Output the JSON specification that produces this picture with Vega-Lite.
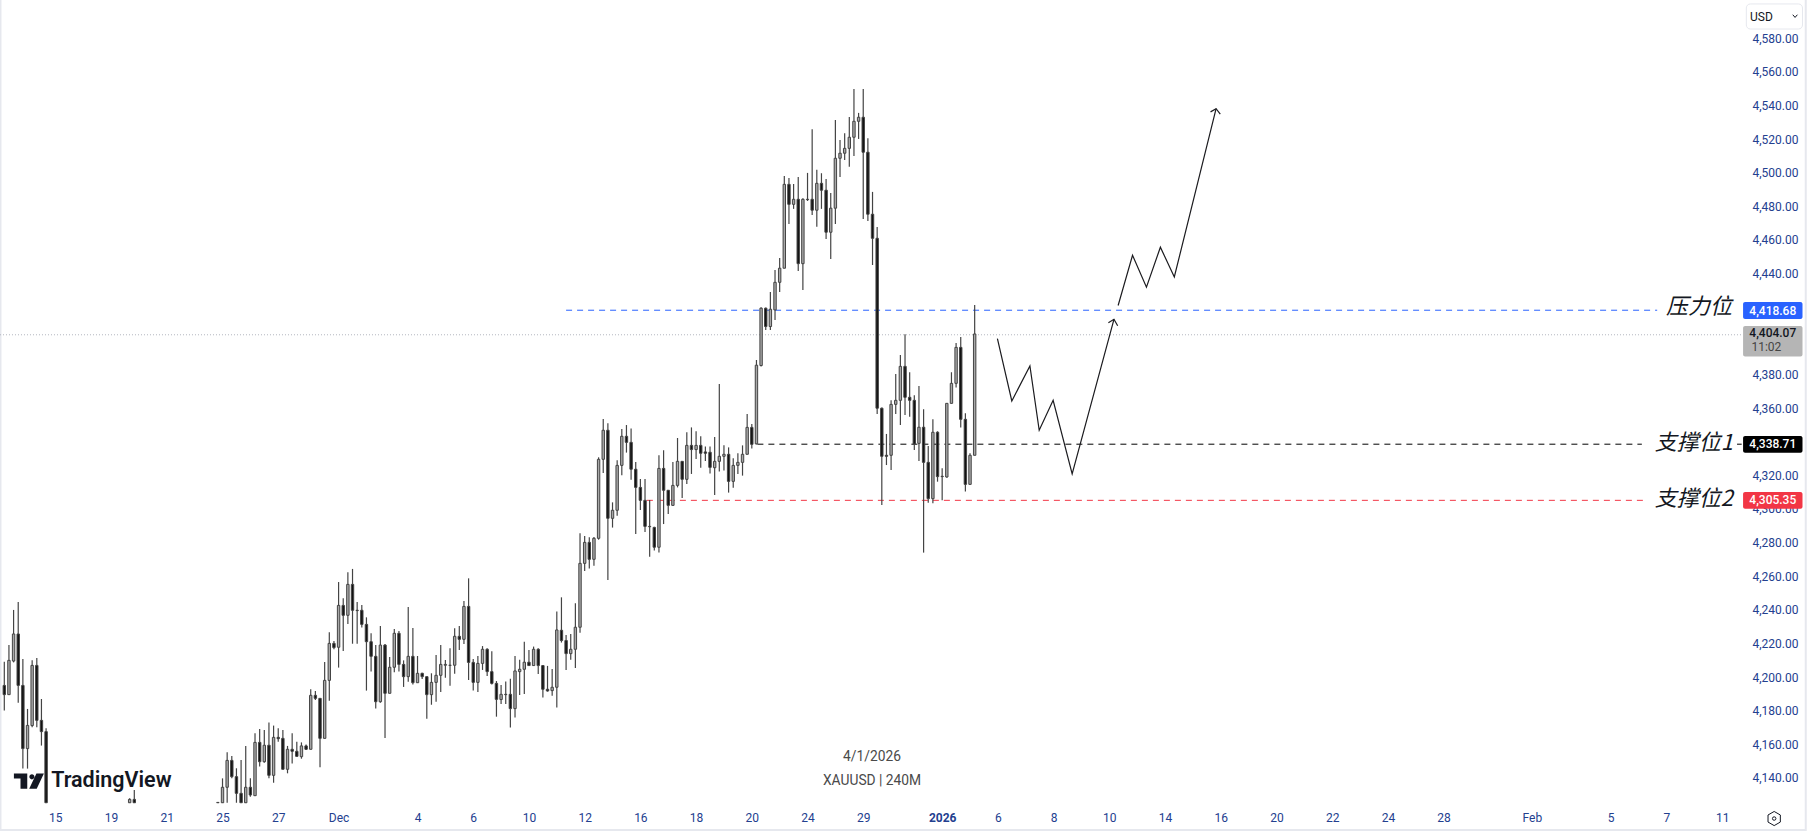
{
"$schema":"https://vega.github.io/schema/vega-lite/v6.json",
"width":1809,"height":834,"padding":0,"autosize":{"type":"none"},"background":"#ffffff",
"config":{"view":{"stroke":null},"axis":{"labelFont":"Roboto","labelFontSize":12,"labelColor":"#23408f"}},
"datasets":{
"candles":[
{"bar":0,"open":4195.0,"high":4209.1,"low":4180.0,"close":4189.5},
{"bar":1,"open":4189.5,"high":4219.0,"low":4189.5,"close":4209.9},
{"bar":2,"open":4209.5,"high":4239.9,"low":4208.7,"close":4225.6},
{"bar":3,"open":4225.6,"high":4244.6,"low":4184.7,"close":4195.0},
{"bar":4,"open":4195.0,"high":4210.7,"low":4145.5,"close":4157.4},
{"bar":5,"open":4157.4,"high":4181.0,"low":4145.5,"close":4171.2},
{"bar":6,"open":4171.1,"high":4209.9,"low":4170.1,"close":4206.9},
{"bar":7,"open":4206.9,"high":4211.3,"low":4170.1,"close":4174.2},
{"bar":8,"open":4174.2,"high":4186.9,"low":4159.2,"close":4167.5},
{"bar":9,"open":4167.5,"high":4169.5,"low":4125.2,"close":4125.2},
{"bar":27,"open":4125.2,"high":4127.8,"low":4125.2,"close":4127.2},
{"bar":28,"open":4127.2,"high":4132.8,"low":4125.2,"close":4125.2},
{"bar":46,"open":4125.2,"high":4125.4,"low":4125.2,"close":4125.4},
{"bar":47,"open":4125.2,"high":4139.7,"low":4125.2,"close":4134.4},
{"bar":48,"open":4134.4,"high":4155.2,"low":4125.2,"close":4150.4},
{"bar":49,"open":4150.4,"high":4153.0,"low":4139.7,"close":4140.7},
{"bar":50,"open":4140.7,"high":4145.7,"low":4125.2,"close":4130.8},
{"bar":51,"open":4130.8,"high":4150.6,"low":4125.2,"close":4125.2},
{"bar":52,"open":4125.2,"high":4159.0,"low":4125.2,"close":4134.4},
{"bar":53,"open":4134.4,"high":4139.7,"low":4128.8,"close":4129.8},
{"bar":54,"open":4129.4,"high":4166.5,"low":4129.4,"close":4161.1},
{"bar":55,"open":4161.1,"high":4169.1,"low":4146.7,"close":4149.6},
{"bar":56,"open":4149.6,"high":4168.5,"low":4149.0,"close":4159.4},
{"bar":57,"open":4159.4,"high":4173.0,"low":4139.7,"close":4141.5},
{"bar":58,"open":4141.5,"high":4171.1,"low":4137.1,"close":4164.1},
{"bar":59,"open":4164.1,"high":4169.5,"low":4161.5,"close":4163.3},
{"bar":60,"open":4163.5,"high":4168.5,"low":4145.1,"close":4145.1},
{"bar":61,"open":4145.1,"high":4159.0,"low":4142.7,"close":4157.0},
{"bar":62,"open":4157.0,"high":4166.5,"low":4148.6,"close":4155.8},
{"bar":63,"open":4155.8,"high":4161.5,"low":4152.6,"close":4152.8},
{"bar":64,"open":4152.6,"high":4161.1,"low":4151.4,"close":4159.0},
{"bar":65,"open":4159.0,"high":4159.9,"low":4156.6,"close":4157.0},
{"bar":66,"open":4157.0,"high":4192.7,"low":4157.0,"close":4189.1},
{"bar":67,"open":4189.1,"high":4191.7,"low":4186.3,"close":4187.3},
{"bar":68,"open":4187.3,"high":4187.3,"low":4146.3,"close":4163.5},
{"bar":69,"open":4163.5,"high":4208.9,"low":4163.5,"close":4198.0},
{"bar":70,"open":4198.0,"high":4226.6,"low":4185.9,"close":4220.0},
{"bar":71,"open":4220.0,"high":4221.4,"low":4216.5,"close":4217.5},
{"bar":72,"open":4217.7,"high":4256.5,"low":4205.6,"close":4242.6},
{"bar":73,"open":4242.6,"high":4246.8,"low":4215.5,"close":4236.7},
{"bar":74,"open":4236.7,"high":4262.3,"low":4231.5,"close":4255.1},
{"bar":75,"open":4255.1,"high":4264.3,"low":4219.8,"close":4239.7},
{"bar":76,"open":4239.7,"high":4244.6,"low":4219.8,"close":4239.5},
{"bar":77,"open":4239.7,"high":4242.8,"low":4229.4,"close":4231.3},
{"bar":78,"open":4231.3,"high":4235.5,"low":4191.9,"close":4221.0},
{"bar":79,"open":4221.0,"high":4226.0,"low":4203.2,"close":4212.3},
{"bar":80,"open":4212.3,"high":4219.0,"low":4181.2,"close":4185.3},
{"bar":81,"open":4185.3,"high":4230.3,"low":4184.7,"close":4219.0},
{"bar":82,"open":4219.0,"high":4219.6,"low":4163.7,"close":4190.3},
{"bar":83,"open":4190.3,"high":4211.9,"low":4190.3,"close":4205.8},
{"bar":84,"open":4205.8,"high":4228.6,"low":4202.8,"close":4226.0},
{"bar":85,"open":4226.0,"high":4227.4,"low":4203.2,"close":4207.5},
{"bar":86,"open":4207.5,"high":4209.9,"low":4194.1,"close":4200.2},
{"bar":87,"open":4200.2,"high":4241.6,"low":4197.2,"close":4212.3},
{"bar":88,"open":4212.3,"high":4229.2,"low":4195.6,"close":4196.6},
{"bar":89,"open":4196.6,"high":4212.5,"low":4196.6,"close":4202.2},
{"bar":90,"open":4202.2,"high":4202.6,"low":4198.8,"close":4200.2},
{"bar":91,"open":4200.2,"high":4200.2,"low":4175.2,"close":4189.5},
{"bar":92,"open":4189.5,"high":4202.2,"low":4183.5,"close":4196.8},
{"bar":93,"open":4196.8,"high":4213.1,"low":4185.3,"close":4201.0},
{"bar":94,"open":4201.0,"high":4219.0,"low":4191.1,"close":4207.5},
{"bar":95,"open":4207.0,"high":4210.1,"low":4199.6,"close":4207.5},
{"bar":96,"open":4206.9,"high":4217.1,"low":4194.8,"close":4207.0},
{"bar":97,"open":4207.0,"high":4229.0,"low":4202.0,"close":4224.2},
{"bar":98,"open":4224.2,"high":4230.3,"low":4216.1,"close":4222.4},
{"bar":99,"open":4222.4,"high":4245.2,"low":4219.6,"close":4242.0},
{"bar":100,"open":4242.0,"high":4258.7,"low":4198.2,"close":4208.7},
{"bar":101,"open":4208.7,"high":4210.7,"low":4191.9,"close":4196.8},
{"bar":102,"open":4196.8,"high":4212.5,"low":4191.1,"close":4208.1},
{"bar":103,"open":4208.1,"high":4218.4,"low":4204.2,"close":4216.5},
{"bar":104,"open":4216.5,"high":4217.1,"low":4200.6,"close":4203.2},
{"bar":105,"open":4203.2,"high":4215.3,"low":4195.6,"close":4196.2},
{"bar":106,"open":4196.2,"high":4197.6,"low":4176.4,"close":4186.7},
{"bar":107,"open":4186.6,"high":4195.3,"low":4184.0,"close":4189.7},
{"bar":108,"open":4189.7,"high":4197.3,"low":4184.0,"close":4189.5},
{"bar":109,"open":4189.7,"high":4198.9,"low":4169.9,"close":4181.2},
{"bar":110,"open":4181.2,"high":4212.5,"low":4175.9,"close":4203.6},
{"bar":111,"open":4203.2,"high":4210.2,"low":4189.3,"close":4204.6},
{"bar":112,"open":4204.6,"high":4220.9,"low":4189.9,"close":4208.8},
{"bar":113,"open":4208.8,"high":4216.1,"low":4206.8,"close":4206.8},
{"bar":114,"open":4206.8,"high":4218.1,"low":4206.8,"close":4216.5},
{"bar":115,"open":4216.5,"high":4217.1,"low":4201.8,"close":4206.8},
{"bar":116,"open":4206.8,"high":4207.2,"low":4187.8,"close":4192.7},
{"bar":117,"open":4192.7,"high":4206.6,"low":4191.3,"close":4191.7},
{"bar":118,"open":4191.9,"high":4204.8,"low":4188.9,"close":4193.9},
{"bar":119,"open":4193.9,"high":4238.9,"low":4181.8,"close":4228.0},
{"bar":120,"open":4227.8,"high":4247.4,"low":4220.5,"close":4221.7},
{"bar":121,"open":4221.7,"high":4225.0,"low":4204.2,"close":4213.9},
{"bar":122,"open":4213.9,"high":4225.6,"low":4210.2,"close":4216.5},
{"bar":123,"open":4216.5,"high":4243.9,"low":4205.4,"close":4229.6},
{"bar":124,"open":4229.6,"high":4285.5,"low":4226.4,"close":4267.6},
{"bar":125,"open":4267.6,"high":4283.9,"low":4263.1,"close":4280.1},
{"bar":126,"open":4280.1,"high":4283.1,"low":4264.5,"close":4270.0},
{"bar":127,"open":4270.0,"high":4283.3,"low":4266.2,"close":4282.5},
{"bar":128,"open":4282.5,"high":4330.7,"low":4281.7,"close":4329.5},
{"bar":129,"open":4329.5,"high":4353.5,"low":4321.4,"close":4346.8},
{"bar":130,"open":4346.8,"high":4350.9,"low":4257.7,"close":4294.4},
{"bar":131,"open":4294.4,"high":4303.9,"low":4288.9,"close":4299.2},
{"bar":132,"open":4299.2,"high":4328.9,"low":4296.0,"close":4325.9},
{"bar":133,"open":4325.9,"high":4347.5,"low":4320.0,"close":4343.2},
{"bar":134,"open":4343.2,"high":4349.9,"low":4333.5,"close":4339.6},
{"bar":135,"open":4339.6,"high":4347.9,"low":4317.4,"close":4323.6},
{"bar":136,"open":4323.6,"high":4327.9,"low":4285.1,"close":4312.8},
{"bar":137,"open":4312.8,"high":4317.8,"low":4299.4,"close":4305.1},
{"bar":138,"open":4305.1,"high":4317.8,"low":4286.3,"close":4289.6},
{"bar":139,"open":4289.6,"high":4305.3,"low":4271.6,"close":4289.4},
{"bar":140,"open":4289.0,"high":4289.4,"low":4275.2,"close":4277.2},
{"bar":141,"open":4277.2,"high":4331.9,"low":4274.0,"close":4324.1},
{"bar":142,"open":4324.1,"high":4334.9,"low":4291.0,"close":4311.1},
{"bar":143,"open":4311.1,"high":4311.3,"low":4297.0,"close":4302.1},
{"bar":144,"open":4302.1,"high":4327.9,"low":4301.9,"close":4314.0},
{"bar":145,"open":4314.0,"high":4342.2,"low":4312.8,"close":4328.3},
{"bar":146,"open":4328.3,"high":4328.5,"low":4306.5,"close":4317.6},
{"bar":147,"open":4317.6,"high":4345.6,"low":4314.8,"close":4337.8},
{"bar":148,"open":4337.8,"high":4348.5,"low":4320.8,"close":4335.3},
{"bar":149,"open":4335.3,"high":4346.2,"low":4329.7,"close":4337.8},
{"bar":150,"open":4337.8,"high":4343.2,"low":4324.5,"close":4333.1},
{"bar":151,"open":4333.9,"high":4337.2,"low":4328.5,"close":4333.1},
{"bar":152,"open":4333.7,"high":4337.2,"low":4321.0,"close":4324.7},
{"bar":153,"open":4324.5,"high":4342.8,"low":4308.3,"close":4328.3},
{"bar":154,"open":4328.3,"high":4374.3,"low":4322.2,"close":4331.3},
{"bar":155,"open":4331.3,"high":4337.8,"low":4322.8,"close":4332.5},
{"bar":156,"open":4332.5,"high":4336.6,"low":4309.7,"close":4316.4},
{"bar":157,"open":4316.4,"high":4330.1,"low":4312.6,"close":4325.9},
{"bar":158,"open":4325.9,"high":4333.1,"low":4320.8,"close":4327.7},
{"bar":159,"open":4327.7,"high":4337.8,"low":4319.8,"close":4332.5},
{"bar":160,"open":4332.5,"high":4356.5,"low":4332.5,"close":4348.5},
{"bar":161,"open":4348.5,"high":4350.5,"low":4336.0,"close":4338.4},
{"bar":162,"open":4338.7,"high":4388.6,"low":4338.4,"close":4385.5},
{"bar":163,"open":4385.3,"high":4420.0,"low":4384.7,"close":4419.4},
{"bar":164,"open":4419.4,"high":4419.8,"low":4406.5,"close":4408.5},
{"bar":165,"open":4408.5,"high":4429.1,"low":4406.5,"close":4418.8},
{"bar":166,"open":4418.4,"high":4442.2,"low":4412.4,"close":4434.8},
{"bar":167,"open":4434.8,"high":4449.3,"low":4429.1,"close":4443.2},
{"bar":168,"open":4443.2,"high":4498.1,"low":4443.2,"close":4493.1},
{"bar":169,"open":4493.1,"high":4496.9,"low":4469.5,"close":4481.2},
{"bar":170,"open":4481.2,"high":4493.3,"low":4478.5,"close":4484.2},
{"bar":171,"open":4484.2,"high":4497.5,"low":4441.6,"close":4445.9},
{"bar":172,"open":4445.9,"high":4484.8,"low":4430.3,"close":4484.2},
{"bar":173,"open":4484.2,"high":4499.9,"low":4483.2,"close":4484.0},
{"bar":174,"open":4484.2,"high":4525.9,"low":4474.9,"close":4477.7},
{"bar":175,"open":4477.7,"high":4501.7,"low":4467.8,"close":4493.7},
{"bar":176,"open":4493.7,"high":4499.7,"low":4478.5,"close":4489.6},
{"bar":177,"open":4489.6,"high":4496.3,"low":4460.6,"close":4464.6},
{"bar":178,"open":4464.6,"high":4488.0,"low":4448.7,"close":4478.9},
{"bar":179,"open":4478.9,"high":4531.4,"low":4469.5,"close":4508.6},
{"bar":180,"open":4508.6,"high":4519.5,"low":4497.5,"close":4511.6},
{"bar":181,"open":4511.6,"high":4523.5,"low":4507.6,"close":4514.5},
{"bar":182,"open":4514.5,"high":4533.2,"low":4503.6,"close":4521.1},
{"bar":183,"open":4521.1,"high":4549.8,"low":4510.0,"close":4530.6},
{"bar":184,"open":4530.6,"high":4535.6,"low":4520.1,"close":4533.0},
{"bar":185,"open":4533.0,"high":4549.8,"low":4472.5,"close":4512.2},
{"bar":186,"open":4512.2,"high":4520.5,"low":4471.3,"close":4475.3},
{"bar":187,"open":4475.3,"high":4488.6,"low":4445.1,"close":4461.0},
{"bar":188,"open":4461.0,"high":4467.7,"low":4356.5,"close":4359.9},
{"bar":189,"open":4359.9,"high":4360.4,"low":4302.3,"close":4331.3},
{"bar":190,"open":4331.9,"high":4344.6,"low":4326.1,"close":4331.3},
{"bar":191,"open":4331.9,"high":4364.6,"low":4323.2,"close":4362.2},
{"bar":192,"open":4362.2,"high":4380.3,"low":4356.5,"close":4364.6},
{"bar":193,"open":4364.6,"high":4391.6,"low":4349.9,"close":4384.8},
{"bar":194,"open":4384.8,"high":4403.9,"low":4355.9,"close":4366.4},
{"bar":195,"open":4366.4,"high":4381.3,"low":4354.9,"close":4364.6},
{"bar":196,"open":4364.6,"high":4367.6,"low":4335.1,"close":4338.6},
{"bar":197,"open":4339.0,"high":4373.1,"low":4328.5,"close":4348.6},
{"bar":198,"open":4348.6,"high":4359.3,"low":4274.0,"close":4327.7},
{"bar":199,"open":4327.7,"high":4337.4,"low":4303.7,"close":4306.1},
{"bar":200,"open":4306.1,"high":4353.3,"low":4303.3,"close":4345.6},
{"bar":201,"open":4345.6,"high":4346.2,"low":4316.2,"close":4319.2},
{"bar":202,"open":4319.4,"high":4324.2,"low":4305.1,"close":4319.2},
{"bar":203,"open":4319.0,"high":4362.8,"low":4318.6,"close":4362.8},
{"bar":204,"open":4362.8,"high":4381.3,"low":4362.8,"close":4374.7},
{"bar":205,"open":4374.7,"high":4398.7,"low":4372.3,"close":4396.1},
{"bar":206,"open":4396.1,"high":4402.3,"low":4348.4,"close":4353.3},
{"bar":207,"open":4353.3,"high":4356.9,"low":4310.3,"close":4314.6},
{"bar":208,"open":4314.6,"high":4333.1,"low":4314.6,"close":4331.9},
{"bar":209,"open":4331.9,"high":4421.3,"low":4331.9,"close":4404.07}
],
"levels":[
{"level":"last","from":-0.93,"to":374.5,"price":4403.6},
{"level":"resistance","from":121,"to":356,"price":4418.2},
{"level":"support1","from":162.2,"to":352.7,"price":4338.5},
{"level":"support1","from":373.2,"to":374.2,"price":4338.5},
{"level":"support2","from":138.4,"to":353.7,"price":4305.1}
],
"paths":[
{"path":"a","seq":0,"bar":213.9,"price":4401.3},{"path":"a","seq":1,"bar":217.0,"price":4364.2},{"path":"a","seq":2,"bar":220.9,"price":4385.0},{"path":"a","seq":3,"bar":222.9,"price":4346.8},{"path":"a","seq":4,"bar":225.9,"price":4364.6},{"path":"a","seq":5,"bar":230.0,"price":4320.8},{"path":"a","seq":6,"bar":239.0,"price":4412.8},
{"path":"ah","seq":0,"bar":237.8,"price":4410.8},{"path":"ah","seq":1,"bar":239.0,"price":4412.8},{"path":"ah","seq":2,"bar":239.8,"price":4409.0},
{"path":"b","seq":0,"bar":239.9,"price":4421.0},{"path":"b","seq":1,"bar":243.0,"price":4450.9},{"path":"b","seq":2,"bar":246.0,"price":4431.9},{"path":"b","seq":3,"bar":249.0,"price":4455.7},{"path":"b","seq":4,"bar":252.0,"price":4438.0},{"path":"b","seq":5,"bar":261.0,"price":4538.1},
{"path":"bh","seq":0,"bar":259.8,"price":4536.2},{"path":"bh","seq":1,"bar":261.0,"price":4538.1},{"path":"bh","seq":2,"bar":261.9,"price":4534.8}
],
"notes":[
{"text":"压力位","bar":357.9,"price":4420.1},
{"text":"支撑位1","bar":355.5,"price":4339.4},
{"text":"支撑位2","bar":355.5,"price":4306.1}
],
"stamp":[
{"text":"4/1/2026","bar":186.9,"price":4152.4},
{"text":"XAUUSD | 240M","bar":186.9,"price":4138.4}
],
"pills":[
{"kind":"resistance","from":374.5,"to":387.3,"top":4423.1,"bottom":4413.0},
{"kind":"last","from":374.5,"to":387.3,"top":4408.8,"bottom":4390.6},
{"kind":"support1","from":374.5,"to":387.3,"top":4343.4,"bottom":4333.4},
{"kind":"support2","from":374.5,"to":387.3,"top":4310.1,"bottom":4300.1}
],
"pillText":[
{"text":"4,418.68","kind":"light","bar":380.9,"price":4418.0},
{"text":"4,404.07","kind":"dark","bar":380.9,"price":4404.5},
{"text":"4,338.71","kind":"light","bar":380.9,"price":4338.5},
{"text":"4,305.35","kind":"light","bar":380.9,"price":4305.1}
]
},
"layer":[
{"data":{"values":[{"left":-0.82,"right":388,"top":4604,"bottom":4109}]},
 "mark":{"type":"rect","fill":"transparent","stroke":"#e6e8ee","strokeWidth":2},
 "encoding":{
  "x":{"field":"left","type":"quantitative","title":null,
   "scale":{"domain":[-0.926,388.7],"nice":false,"zero":false,"padding":0},
   "axis":{"orient":"bottom","offset":-17,"title":null,"grid":false,"domain":false,"ticks":false,"labelPadding":0,"labelBaseline":"middle","labelFlush":false,"labelBound":false,"labelOverlap":false,
    "values":[11,23,35,47,59,72,89,101,113,125,137,149,161,173,185,202,214,226,238,250,262,274,286,298,310,329,346,358,370],
    "labelExpr":"({11:'15',23:'19',35:'21',47:'25',59:'27',72:'Dec',89:'4',101:'6',113:'10',125:'12',137:'16',149:'18',161:'20',173:'24',185:'29',202:'2026',214:'6',226:'8',238:'10',250:'14',262:'16',274:'20',286:'22',298:'24',310:'28',329:'Feb',346:'5',358:'7',370:'11'})[datum.value]",
    "labelFontWeight":{"condition":{"test":"datum.value===202","value":"bold"},"value":"normal"}}},
  "x2":{"field":"right"},
  "y":{"field":"top","type":"quantitative","title":null,
   "scale":{"domain":[4106.6,4602.76],"nice":false,"zero":false},
   "axis":{"orient":"right","offset":-11,"title":null,"grid":false,"domain":false,"ticks":false,"labelPadding":0,"labelAlign":"right","labelFlush":false,"labelBound":false,"labelOverlap":false,"format":",.2f",
    "values":[4140,4160,4180,4200,4220,4240,4260,4280,4300,4320,4360,4380,4440,4460,4480,4500,4520,4540,4560,4580]}},
  "y2":{"field":"bottom"}}},
{"data":{"name":"levels"},
 "mark":{"type":"rule","strokeWidth":1},
 "encoding":{
  "x":{"field":"from","type":"quantitative","title":null,"scale":{"domain":[-0.926,388.7],"nice":false,"zero":false,"padding":0}},
  "x2":{"field":"to"},
  "y":{"field":"price","type":"quantitative","title":null,"scale":{"domain":[4106.6,4602.76],"nice":false,"zero":false}},
  "color":{"field":"level","type":"nominal","legend":null,"scale":{"domain":["last","resistance","support1","support2"],"range":["#b2b5be","#2962ff","#000000","#f23645"]}},
  "strokeDash":{"field":"level","type":"nominal","legend":null,"scale":{"domain":["last","resistance","support1","support2"],"range":[[1,2],[6,5],[6,5],[6,5]]}}}},
{"data":{"name":"candles"},
 "mark":{"type":"rule","color":"#444444","strokeWidth":1.2},
 "encoding":{
  "x":{"field":"bar","type":"quantitative","title":null,"scale":{"domain":[-0.926,388.7],"nice":false,"zero":false,"padding":0}},
  "y":{"field":"low","type":"quantitative","title":null,"scale":{"domain":[4106.6,4602.76],"nice":false,"zero":false}},
  "y2":{"field":"high"}}},
{"data":{"name":"candles"},
 "mark":{"type":"bar","size":2.4,"stroke":"#444444","strokeWidth":1},
 "encoding":{
  "x":{"field":"bar","type":"quantitative","title":null,"scale":{"domain":[-0.926,388.7],"nice":false,"zero":false,"padding":0}},
  "y":{"field":"open","type":"quantitative","title":null,"scale":{"domain":[4106.6,4602.76],"nice":false,"zero":false}},
  "y2":{"field":"close"},
  "fill":{"condition":{"test":"datum.close>=datum.open","value":"#a8a8a8"},"value":"#111111"}}},
{"data":{"name":"paths"},
 "mark":{"type":"line","color":"#1b1b1f","strokeWidth":1.2,"interpolate":"linear"},
 "encoding":{
  "x":{"field":"bar","type":"quantitative","title":null,"scale":{"domain":[-0.926,388.7],"nice":false,"zero":false,"padding":0}},
  "y":{"field":"price","type":"quantitative","title":null,"scale":{"domain":[4106.6,4602.76],"nice":false,"zero":false}},
  "detail":{"field":"path"},
  "order":{"field":"seq","type":"quantitative"}}},
{"data":{"name":"notes"},
 "mark":{"type":"text","font":"Noto Sans CJK SC","fontSize":22,"fontStyle":"italic","fontWeight":400,"align":"left","baseline":"middle","color":"#131722"},
 "encoding":{
  "x":{"field":"bar","type":"quantitative","title":null,"scale":{"domain":[-0.926,388.7],"nice":false,"zero":false,"padding":0}},
  "y":{"field":"price","type":"quantitative","title":null,"scale":{"domain":[4106.6,4602.76],"nice":false,"zero":false}},
  "text":{"field":"text"}}},
{"data":{"name":"stamp"},
 "mark":{"type":"text","font":"Roboto","fontSize":13.8,"align":"center","baseline":"middle","color":"#4a4a4a"},
 "encoding":{
  "x":{"field":"bar","type":"quantitative","title":null,"scale":{"domain":[-0.926,388.7],"nice":false,"zero":false,"padding":0}},
  "y":{"field":"price","type":"quantitative","title":null,"scale":{"domain":[4106.6,4602.76],"nice":false,"zero":false}},
  "text":{"field":"text"}}},
{"data":{"values":[{"text":"TradingView","bar":10.1,"price":4138}]},
 "mark":{"type":"text","font":"Roboto","fontSize":21.5,"fontWeight":600,"align":"left","baseline":"middle","color":"#131722"},
 "encoding":{
  "x":{"field":"bar","type":"quantitative","title":null,"scale":{"domain":[-0.926,388.7],"nice":false,"zero":false,"padding":0}},
  "y":{"field":"price","type":"quantitative","title":null,"scale":{"domain":[4106.6,4602.76],"nice":false,"zero":false}},
  "text":{"field":"text"}}},
{"data":{"values":[{"bar":5.3,"price":4138}]},
 "mark":{"type":"point","filled":true,"opacity":1,"size":900,"color":"#131722","shape":"M-1,-0.51L-0.11,-0.51L-0.11,0.51L-0.56,0.51L-0.56,-0.18L-1,-0.18ZM0.03,-0.29A0.17,0.17 0 1 0 0.37,-0.29A0.17,0.17 0 1 0 0.03,-0.29ZM0.5,-0.51L1,-0.51L0.52,0.51L0.02,0.51Z"},
 "encoding":{
  "x":{"field":"bar","type":"quantitative","title":null,"scale":{"domain":[-0.926,388.7],"nice":false,"zero":false,"padding":0}},
  "y":{"field":"price","type":"quantitative","title":null,"scale":{"domain":[4106.6,4602.76],"nice":false,"zero":false}}}},
{"data":{"values":[{"from":375.2,"to":387.3,"top":4600.4,"bottom":4585.5}]},
 "mark":{"type":"rect","fill":"#ffffff","stroke":"#e6e8ee","strokeWidth":1,"cornerRadius":4},
 "encoding":{
  "x":{"field":"from","type":"quantitative","title":null,"scale":{"domain":[-0.926,388.7],"nice":false,"zero":false,"padding":0}},
  "x2":{"field":"to"},
  "y":{"field":"top","type":"quantitative","title":null,"scale":{"domain":[4106.6,4602.76],"nice":false,"zero":false}},
  "y2":{"field":"bottom"}}},
{"data":{"values":[{"text":"USD","bar":376.0,"price":4592.9}]},
 "mark":{"type":"text","font":"Roboto","fontSize":12,"align":"left","baseline":"middle","color":"#131722"},
 "encoding":{
  "x":{"field":"bar","type":"quantitative","title":null,"scale":{"domain":[-0.926,388.7],"nice":false,"zero":false,"padding":0}},
  "y":{"field":"price","type":"quantitative","title":null,"scale":{"domain":[4106.6,4602.76],"nice":false,"zero":false}},
  "text":{"field":"text"}}},
{"data":{"values":[{"seq":0,"bar":385.2,"price":4594.0},{"seq":1,"bar":385.7,"price":4592.4},{"seq":2,"bar":386.2,"price":4594.0}]},
 "mark":{"type":"line","color":"#131722","strokeWidth":1},
 "encoding":{
  "x":{"field":"bar","type":"quantitative","title":null,"scale":{"domain":[-0.926,388.7],"nice":false,"zero":false,"padding":0}},
  "y":{"field":"price","type":"quantitative","title":null,"scale":{"domain":[4106.6,4602.76],"nice":false,"zero":false}},
  "order":{"field":"seq","type":"quantitative"}}},
{"data":{"name":"pills"},
 "mark":{"type":"rect","cornerRadius":2},
 "encoding":{
  "x":{"field":"from","type":"quantitative","title":null,"scale":{"domain":[-0.926,388.7],"nice":false,"zero":false,"padding":0}},
  "x2":{"field":"to"},
  "y":{"field":"top","type":"quantitative","title":null,"scale":{"domain":[4106.6,4602.76],"nice":false,"zero":false}},
  "y2":{"field":"bottom"},
  "fill":{"field":"kind","type":"nominal","legend":null,"scale":{"domain":["last","resistance","support1","support2"],"range":["#b5b5b5","#2962ff","#000000","#f23645"]}}}},
{"data":{"name":"pillText"},
 "mark":{"type":"text","font":"Roboto","fontSize":12,"fontWeight":500,"align":"center","baseline":"middle"},
 "encoding":{
  "x":{"field":"bar","type":"quantitative","title":null,"scale":{"domain":[-0.926,388.7],"nice":false,"zero":false,"padding":0}},
  "y":{"field":"price","type":"quantitative","title":null,"scale":{"domain":[4106.6,4602.76],"nice":false,"zero":false}},
  "text":{"field":"text"},
  "color":{"condition":{"test":"datum.kind==='light'","value":"#ffffff"},"value":"#131722"}}},
{"data":{"values":[{"text":"11:02","bar":376.3,"price":4396.2}]},
 "mark":{"type":"text","font":"Roboto","fontSize":12,"align":"left","baseline":"middle","color":"#444444"},
 "encoding":{
  "x":{"field":"bar","type":"quantitative","title":null,"scale":{"domain":[-0.926,388.7],"nice":false,"zero":false,"padding":0}},
  "y":{"field":"price","type":"quantitative","title":null,"scale":{"domain":[4106.6,4602.76],"nice":false,"zero":false}},
  "text":{"field":"text"}}},
{"data":{"values":[{"bar":381.2,"price":4115.8}]},
 "mark":{"type":"point","filled":false,"opacity":1,"size":200,"color":"#131722","strokeWidth":1,"shape":"M0,-1L0.87,-0.5L0.87,0.5L0,1L-0.87,0.5L-0.87,-0.5Z"},
 "encoding":{
  "x":{"field":"bar","type":"quantitative","title":null,"scale":{"domain":[-0.926,388.7],"nice":false,"zero":false,"padding":0}},
  "y":{"field":"price","type":"quantitative","title":null,"scale":{"domain":[4106.6,4602.76],"nice":false,"zero":false}}}},
{"data":{"values":[{"bar":381.2,"price":4115.8}]},
 "mark":{"type":"point","filled":false,"opacity":1,"size":12,"color":"#131722","strokeWidth":1},
 "encoding":{
  "x":{"field":"bar","type":"quantitative","title":null,"scale":{"domain":[-0.926,388.7],"nice":false,"zero":false,"padding":0}},
  "y":{"field":"price","type":"quantitative","title":null,"scale":{"domain":[4106.6,4602.76],"nice":false,"zero":false}}}}
]
}
